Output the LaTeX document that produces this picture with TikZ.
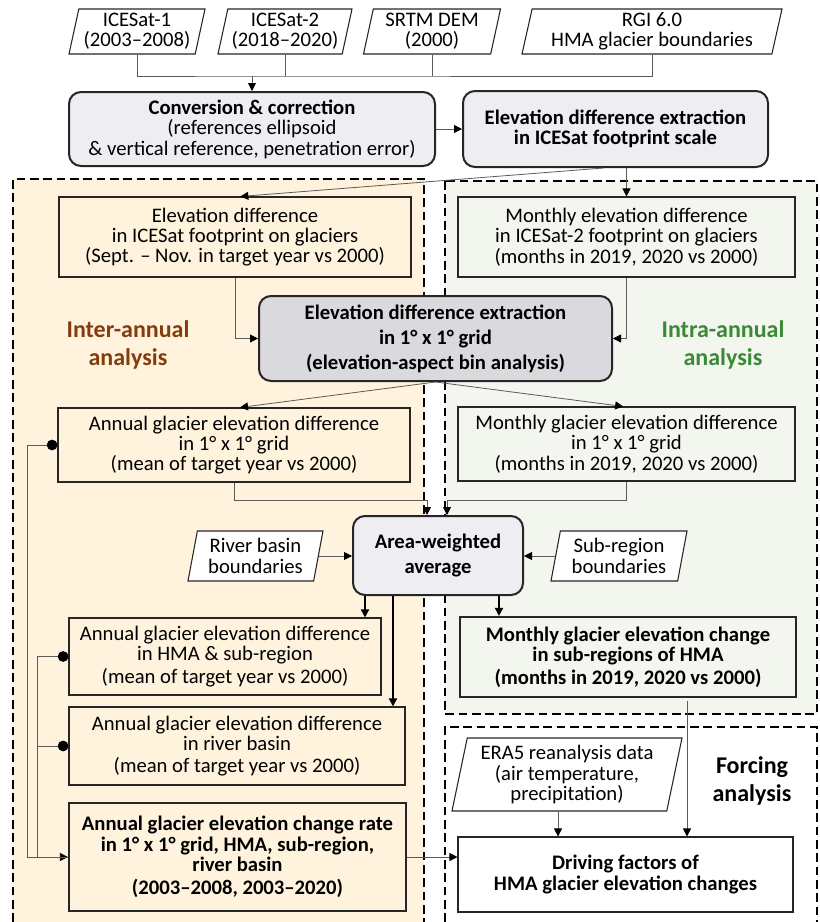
\documentclass[tikz,border=0pt]{standalone}
\usepackage{fontspec}
\setmainfont{Carlito}
\usetikzlibrary{arrows.meta, shapes.geometric}

\definecolor{intercol}{HTML}{FFF3DE}
\definecolor{intracol}{HTML}{F3F5EF}
\definecolor{procgray}{HTML}{EEEEF2}
\definecolor{griddark}{HTML}{D9D9DE}
\definecolor{linegray}{HTML}{5A5A5A}
\definecolor{boxline}{HTML}{262626}
\definecolor{interbrown}{HTML}{843C0C}
\definecolor{intragreen}{HTML}{3A8A35}

\tikzset{
    %Define standard arrow tip
    >={Triangle[length=6pt,width=6pt,color=black]},
    %Define style for boxes
    databox/.style={
           trapezium,
           trapezium left angle=76,
           trapezium right angle=104,
           trapezium stretches body,
           draw=boxline, line width=0.8pt,
           fill=white,
           align=center,
           inner sep=1pt},
    procbox/.style={
           rectangle,
           rounded corners=9pt,
           draw=boxline, line width=1.5pt,
           fill=procgray,
           font=\fontsize{15.5}{15.3}\selectfont\bfseries,
           align=center},
    plainbox/.style={
           rectangle,
           draw=boxline, line width=0.8pt,
           align=center,
           inner sep=2pt},
    resultbox/.style={
           plainbox,
           line width=1.6pt,
           font=\fontsize{15.5}{15.3}\selectfont\bfseries},
    sectionlabel/.style={
           font=\fontsize{18}{21}\selectfont\bfseries,
           align=center},
    region/.style={
           dashed, dash pattern=on 6.5pt off 3.5pt,
           line width=1.1pt},
    % Define arrow style
    link/.style={
           draw=linegray,
           line width=0.6pt},
    conn/.style={
           link,
           ->},
    mainconn/.style={
           ->,
           draw=black,
           line width=1.3pt},
    dotlink/.style={
           link,
           {Circle[length=8pt,color=black]}-},
    dotconn/.style={
           link,
           {Circle[length=8pt,color=black]}->}
}

\begin{document}
\begin{tikzpicture}[x=0.75pt, y=-0.75pt, font=\fontsize{15.5}{15.3}\selectfont]
    \useasboundingbox (0,0) rectangle (820,922);

    % ANALYSIS REGIONS
    \fill[intercol] (13,179) rectangle (424,922);
    \draw[region] (13,922) -- (13,179) -- (424,179) -- (424,922);
    \fill[intracol] (445,181) rectangle (817,714);
    \draw[region] (445,181) rectangle (817,714);
    \draw[region] (445,922) -- (445,727) -- (817,727) -- (817,922);

    \node[sectionlabel, text=interbrown] (interlbl) at (128,345) {Inter-annual\\analysis};
    \node[sectionlabel, text=intragreen] (intralbl) at (723,345) {Intra-annual\\analysis};
    \node[sectionlabel] (forcelbl) at (752,781) {Forcing\\analysis};

    % INPUT DATA
    \node[databox, minimum width=102pt, minimum height=33.75pt] (ice1) at (137,31.5) {ICESat-1\\(2003–2008)};
    \node[databox, minimum width=100.5pt, minimum height=33.75pt] (ice2) at (285,31.5) {ICESat-2\\(2018–2020)};
    \node[databox, minimum width=102.75pt, minimum height=33.75pt] (srtm) at (432,31.5) {SRTM DEM\\(2000)};
    \node[databox, minimum width=195pt, minimum height=33.75pt] (rgi) at (652,31.5) {RGI 6.0\\HMA glacier boundaries};

    % PROCESSING
    \node[procbox, minimum width=274.5pt, minimum height=55.5pt] (conv) at (252,129)
        {Conversion \& correction\\\mdseries(references ellipsoid\\\mdseries\& vertical reference, penetration error)};
    \node[procbox, minimum width=228.75pt, minimum height=57pt] (extract) at (615.5,129)
        {Elevation difference extraction\\in ICESat footprint scale};

    \node[plainbox, fill=intercol, minimum width=264pt, minimum height=60pt] (diffinter) at (235,237)
        {Elevation difference\\in ICESat footprint on glaciers\\(Sept. – Nov. in target year vs 2000)};
    \node[plainbox, fill=intracol, minimum width=252.75pt, minimum height=60pt] (diffintra) at (626.5,237)
        {Monthly elevation difference\\in ICESat-2 footprint on glaciers\\(months in 2019, 2020 vs 2000)};

    \node[procbox, fill=griddark, font=\fontsize{15.5}{18.75}\selectfont\bfseries,
          minimum width=264.75pt, minimum height=63.75pt] (grid) at (435.5,338.5)
        {Elevation difference extraction\\in 1° x 1° grid\\(elevation-aspect bin analysis)};

    \node[plainbox, fill=intercol, minimum width=264pt, minimum height=55.5pt] (gridinter) at (234,445)
        {Annual glacier elevation difference\\in 1° x 1° grid\\(mean of target year vs 2000)};
    \node[plainbox, fill=intracol, minimum width=252.75pt, minimum height=55.5pt] (gridintra) at (626.5,444)
        {Monthly glacier elevation difference\\in 1° x 1° grid\\(months in 2019, 2020 vs 2000)};

    \node[procbox, font=\fontsize{15.5}{18.75}\selectfont\bfseries,
          minimum width=127.5pt, minimum height=59.25pt] (area) at (438,555.5) {Area-weighted\\average};
    \node[databox, minimum width=101.25pt, minimum height=37.5pt] (river) at (255.5,556) {River basin\\boundaries};
    \node[databox, minimum width=102pt, minimum height=37.5pt] (subreg) at (619,556) {Sub-region\\boundaries};

    % RESULTS
    \node[plainbox, fill=intercol, minimum width=234pt, minimum height=57.75pt] (hma) at (225,656.5)
        {Annual glacier elevation difference\\in HMA \& sub-region\\[1.5pt](mean of target year vs 2000)};
    \node[plainbox, fill=intercol, minimum width=252pt, minimum height=58.5pt] (basin) at (237,746)
        {Annual glacier elevation difference\\in river basin\\[1.5pt](mean of target year vs 2000)};
    \node[resultbox, fill=intercol, minimum width=252.75pt, minimum height=81pt] (rate) at (237.5,857)
        {Annual glacier elevation change rate\\in 1° x 1° grid, HMA, sub-region,\\river basin\\[2pt](2003–2008, 2003–2020)};
    \node[resultbox, fill=intracol, minimum width=252pt, minimum height=60pt] (monthly) at (628,657)
        {Monthly glacier elevation change\\in sub-regions of HMA\\[1.5pt](months in 2019, 2020 vs 2000)};

    % FORCING
    \node[databox, minimum width=172.5pt, minimum height=54.75pt] (era) at (567,774.5)
        {ERA5 reanalysis data\\(air temperature,\\precipitation)};
    \node[resultbox, line width=0.8pt, fill=white, minimum width=251.25pt, minimum height=56.25pt] (driving) at (625.5,874.5)
        {Driving factors of\\HMA glacier elevation changes};

    % CONNECTORS
    \coordinate (bus) at (252,76);
    \draw[link] (ice1.south) |- (bus) -| (rgi.south);
    \draw[link] (ice2.south) -- (ice2.south |- bus);
    \draw[link] (srtm.south) -- (srtm.south |- bus);
    \draw[conn] (bus) -- (conv.north);
    \draw[conn] (conv.east) -- (extract.west);

    \draw[conn] ([xshift=-9pt]extract.south) -- ([xshift=4pt]diffinter.north);
    \draw[conn] (extract.south -| diffintra.north) -- (diffintra.north);
    \draw[conn] (diffinter.south) |- (grid.west);
    \draw[conn] (diffintra.south) |- (grid.east);
    \draw[conn] (grid.south) -- ([xshift=4.5pt]gridinter.north);
    \draw[conn] (grid.south) -- ([xshift=-2.5pt]gridintra.north);

    \coordinate (aw-in1) at ([xshift=-8.25pt]area.north);
    \coordinate (aw-in2) at ([xshift=6.75pt]area.north);
    \coordinate (aw-out1) at ([xshift=-54.75pt]area.south);
    \coordinate (aw-out2) at ([xshift=-33.75pt]area.south);
    \coordinate (aw-out3) at ([xshift=45.75pt]area.south);
    \draw[conn] (gridinter.south) -- ++(0,18) -| (aw-in1);
    \draw[conn] (gridintra.south) -- ++(0,19) -| (aw-in2);
    \draw[conn] (river.east) -- (river.east -| area.west);
    \draw[conn] (subreg.west) -- (subreg.west -| area.east);
    \draw[mainconn] (aw-out1) -- (aw-out1 |- hma.north);
    \draw[mainconn] (aw-out2) -- (aw-out2 |- basin.north);
    \draw[mainconn] (aw-out3) -- (aw-out3 |- monthly.north);

    \draw[dotconn] (gridinter.west) -- ++(-30,0) |- (rate.west);
    \draw[dotlink] (hma.west) -- ++(-31,0) |- (rate.west);
    \draw[dotlink] (basin.west) -- ++(-31,0);

    \coordinate (era-out) at ([xshift=-6.75pt]era.south);
    \coordinate (mo-out) at ([xshift=44.25pt,yshift=-2.25pt]monthly.south);
    \draw[conn] (era-out) -- (era-out |- driving.north);
    \draw[conn] (mo-out) -- (mo-out |- driving.north);
    \draw[conn] (rate.east) -- (rate.east -| driving.west);
\end{tikzpicture}
\end{document}
